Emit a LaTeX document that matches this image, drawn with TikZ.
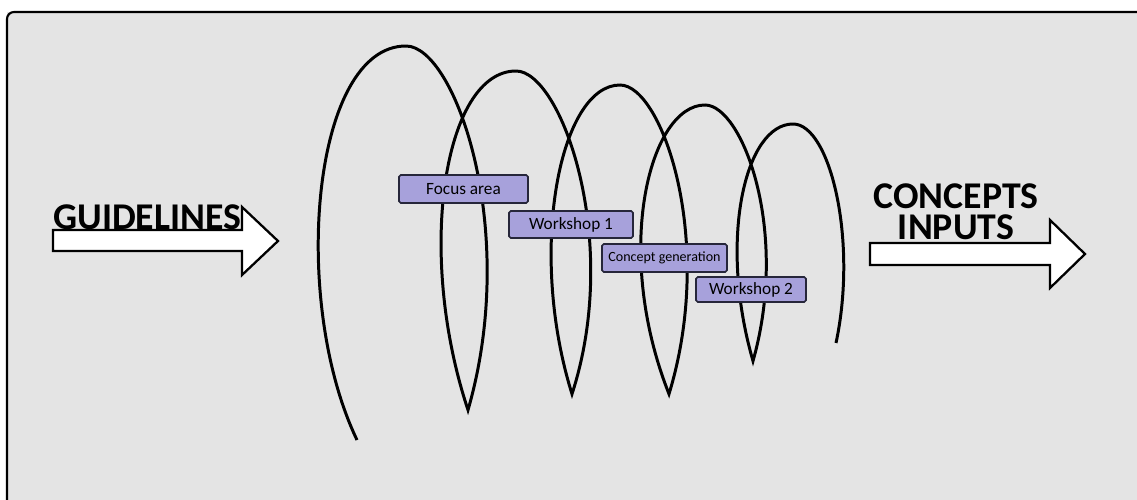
\documentclass[tikz,border=0pt]{standalone}
\usepackage{fontspec}
\setmainfont{Carlito}
\usepackage{xcolor}
\usepackage{tikz}
\usetikzlibrary{positioning}
\definecolor{panelgray}{HTML}{E4E4E4}
\definecolor{boxlilac}{HTML}{A7A1DB}
\definecolor{boxedge}{HTML}{26263A}
\tikzset{
    stage/.style={draw=boxedge,fill=boxlilac,line width=0.9pt,rounded corners=1pt,%
        inner sep=0pt,font=\fontsize{9.8}{11}\selectfont},
    flow/.style={draw=black,fill=white,line width=1.3pt},
    coil/.style={line width=1.7pt},
    bigword/.style={inner sep=0pt,font=\bfseries\fontsize{21.5}{17.6}\selectfont},
}

\begin{document}
\begin{tikzpicture}[x=0.02cm,y=-0.02cm]
    \useasboundingbox (0,0) rectangle (1137,500);
    \fill[panelgray] (7,12) rectangle (1137,500);
    \draw[line width=1.2pt,rounded corners=4pt] (7,510) -- (7,12) -- (1150,12);
    \draw[coil] (357,440) .. controls (290,300) and (312,46) .. (406,46)
        .. controls (455,46) and (520,230) .. (468,410)
        .. controls (415,250) and (445,71) .. (516,71)
        .. controls (561,71) and (622,240) .. (572,394)
        .. controls (527,250) and (560,85) .. (620,85)
        .. controls (662,85) and (716,240) .. (669,394)
        .. controls (612,250) and (650,105) .. (705,105)
        .. controls (742,105) and (790,230) .. (753,361)
        .. controls (718,240) and (745,124) .. (793,124)
        .. controls (830,124) and (858,240) .. (836,343);
    \node[stage,minimum width=2.58cm,minimum height=0.56cm] (focus) at (463.5,189) {Focus area};
    \node[stage,minimum width=2.48cm,minimum height=0.54cm] (ws1) at (571,224.5) {Workshop 1};
    \node[stage,minimum width=2.5cm,minimum height=0.56cm,font=\fontsize{8}{10}\selectfont] (gen) at (664.5,258) {Concept generation};
    \node[stage,minimum width=2.2cm,minimum height=0.5cm] (ws2) at (751,289.5) {Workshop 2};
    \draw[flow] (53,230) -- (242,230) -- (242,207) -- (278,241) -- (242,275) -- (242,251) -- (53,251) -- cycle;
    \draw[flow] (870,243) -- (1050,243) -- (1050,220) -- (1085,254) -- (1050,288) -- (1050,265) -- (870,265) -- cycle;
    \node[bigword,anchor=base west] (guide) at (53,230) {GUIDELINES};
    \node[bigword,align=center,anchor=north] (outcome) at (956,183) {CONCEPTS\\INPUTS};
\end{tikzpicture}
\end{document}
